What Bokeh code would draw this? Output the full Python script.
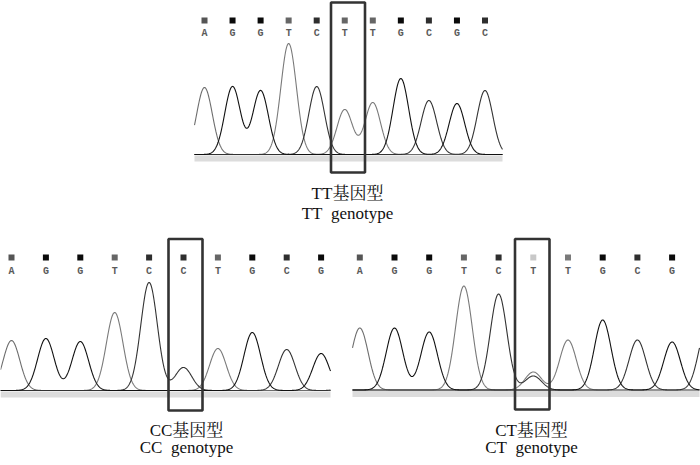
import numpy as np
from bokeh.plotting import figure
from bokeh.models import Range1d
from bokeh.core.properties import value
from bokeh.embed import file_html
from bokeh.resources import INLINE

# ---------------- data (peak heights per base call, relative signal) ----------------
TOP_BASES = ["A", "G", "G", "T", "C", "T", "T", "G", "C", "G", "C"]
TOP_HEIGHTS = [67, 68, 64, 111, 68, 45, 52, 76, 54, 51, 64]

CC_BASES = ["A", "G", "G", "T", "C", "C", "T", "G", "C", "G", "C"]
CC_HEIGHTS = [50, 52, 49, 78, 108, 23, 42, 58, 41, 37, 45]

CT_BASES = ["A", "G", "G", "T", "C", "T", "T", "G", "C", "G", "C"]
CT_HEIGHTS = [62, 62, 58, 104, 96, 18, 50, 70, 50, 48, 62]
CT_ALT_INDEX = [5]
CT_ALT_BASES = ["C"]
CT_ALT_HEIGHTS = [14]

NBSP = "\u00a0"
TOP_CAPTION = ["TT基因型", "TT" + NBSP + NBSP + "genotype"]
CC_CAPTION = ["CC基因型", "CC" + NBSP + NBSP + "genotype"]
CT_CAPTION = ["CT基因型", "CT" + NBSP + NBSP + "genotype"]

# ---------------- styles ----------------
TRACE_COLOR = {"A": "#6e6e6e", "G": "#111111", "T": "#7a7a7a", "C": "#333333"}
SQUARE_COLOR = {"A": "#555555", "G": "#0a0a0a", "T": "#666666", "C": "#2e2e2e"}
SERIF = value("Liberation Serif, Times New Roman, Noto Serif CJK SC, Noto Sans CJK SC")
MONO = value("Liberation Mono")

W, H = 700, 465
p = figure(width=W, height=H, output_backend="svg", toolbar_location=None,
           x_range=Range1d(0, W), y_range=Range1d(H, 0),
           min_border=0, outline_line_color=None)
p.xaxis.visible = False
p.yaxis.visible = False
p.grid.visible = False


def panel(bases, heights, x_first, spacing, base_y, left, right, sq_y, let_y,
          box, caption, cap_x, cap_y, sigma, alt=None, sq_override=None):
    xs = np.arange(left, right + 0.01, 0.5)
    centers = x_first + spacing * np.arange(len(bases))
    # light band under baseline
    p.quad(left=left, right=right, top=base_y + 1, bottom=base_y + 7,
           fill_color="#dcdcdc", line_color=None)
    peaks = list(zip(bases, heights, centers))
    if alt is not None:
        for idx, b, h in zip(*alt):
            peaks.append((b, h, centers[idx]))
    order = ["T", "A", "C", "G"]
    for b in order:
        sig = np.zeros_like(xs)
        for bb, h, c in peaks:
            if bb == b:
                sig += h * np.exp(-((xs - c) ** 2) / (2 * sigma ** 2))
        p.line(xs, base_y - sig, line_color=TRACE_COLOR[b], line_width=1.1)
    # base calls
    for i, (b, c) in enumerate(zip(bases, centers)):
        if c > right:
            continue
        col = SQUARE_COLOR[b]
        if sq_override and i in sq_override:
            col = sq_override[i]
        p.rect(x=c, y=sq_y, width=6, height=6, fill_color=col, line_color=None)
        p.text(x=[c], y=[let_y], text=[b], text_font=MONO, text_font_size="10px",
               text_font_style="bold", text_color="#5a5a5a",
               text_align="center", text_baseline="middle")
    # highlight box
    bl, br, bt, bb_ = box
    p.quad(left=bl, right=br, top=bt, bottom=bb_, fill_color=None,
           line_color="#333333", line_width=2.6)
    # caption
    for k, t in enumerate(caption):
        p.text(x=[cap_x], y=[cap_y[k]], text=[t], text_font=SERIF,
               text_font_size="17px", text_color="#111111",
               text_align="center", text_baseline="middle")


panel(TOP_BASES, TOP_HEIGHTS, 204, 28.05, 154, 194, 502, 20, 33,
      (330.5, 364.5, 2, 172), TOP_CAPTION, 347, [193, 213], 7.8)
panel(CC_BASES, CC_HEIGHTS, 11, 34.4, 390, 0, 330, 257, 271,
      (168, 202, 238.5, 410), CC_CAPTION, 186, [430, 447], 8.3)
panel(CT_BASES, CT_HEIGHTS, 359.3, 34.7, 389.5, 352, 699, 257, 271,
      (514.5, 549, 238.5, 409), CT_CAPTION, 531, [430, 447], 8.3,
      alt=(CT_ALT_INDEX, CT_ALT_BASES, CT_ALT_HEIGHTS),
      sq_override={5: "#c8c8c8", 6: "#7a7a7a"})

open("out.html", "w").write(file_html(p, INLINE))
